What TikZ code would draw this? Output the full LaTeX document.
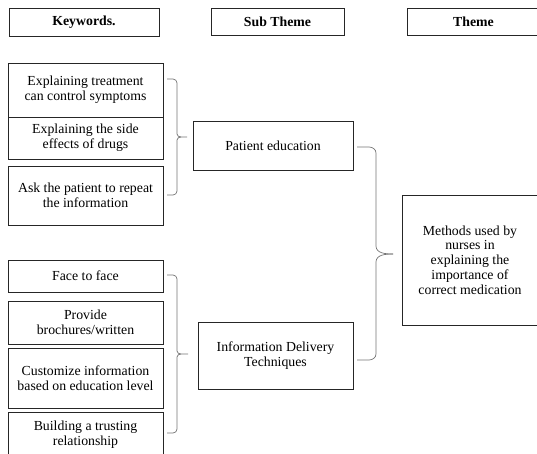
\documentclass[tikz,border=0pt]{standalone}
\usepackage{fontspec}
\setmainfont{Liberation Serif}
\usepackage{tikz}
\tikzset{box/.style = {draw=black!85, line width=0.8pt, align=center, inner sep=0pt,
                       font=\fontsize{13.8}{14.8}\selectfont},
         hdr/.style = {box, font=\fontsize{13.8}{14.8}\selectfont\bfseries},
         grp/.style = {draw=black!55, line width=0.7pt}}

\begin{document}
\begin{tikzpicture}[x=1pt, y=-1pt]
      \clip (0, 0) rectangle (537, 453);

      \node [hdr, minimum width=150, minimum height=28] (kw) at (84, 22) {Keywords.};
      \node [hdr, minimum width=133, minimum height=27] (sub) at (277.5, 21.5) {Sub Theme};
      \node [hdr, minimum width=133, minimum height=27] (thm) at (473.5, 21.5) {Theme};

      \node [box, minimum width=155, minimum height=54] (k1) at (85.5, 90) {Explaining treatment\\can control symptoms};
      \node [box, minimum width=155, minimum height=42] (k2) at (85.5, 138) {Explaining the side\\effects of drugs};
      \node [box, minimum width=155, minimum height=59] (k3) at (85.5, 195.5) {Ask the patient to repeat\\the information};

      \node [box, minimum width=155, minimum height=32] (k4) at (85.5, 276) {Face to face};
      \node [box, minimum width=155, minimum height=43] (k5) at (85.5, 322.5) {Provide\\brochures/written};
      \node [box, minimum width=155, minimum height=60] (k6) at (85.5, 378) {Customize information\\based on education level};
      \node [box, minimum width=155, minimum height=46] (k7) at (85.5, 435) {Building a trusting\\relationship};

      \node [box, minimum width=160, minimum height=49] (edu) at (273, 145.5) {Patient education};
      \node [box, minimum width=155, minimum height=67] (info) at (275.5, 355.5) {Information Delivery\\Techniques};

      \node [box, minimum width=136, minimum height=130] (meth) at (470, 260)
            {Methods used by\\nurses in\\explaining the\\importance of\\correct medication};

      % braces
      \coordinate (b1) at (167, 79);
      \coordinate (b2) at (167, 195);
      \coordinate (t1) at (187, 137);
      \coordinate (b3) at (167, 275);
      \coordinate (b4) at (167, 433);
      \coordinate (t2) at (188, 354);
      \coordinate (b5) at (357, 147);
      \coordinate (b6) at (357, 360);
      \coordinate (t3) at (393, 254);

      \draw [grp] (b1) -- ++(6, 0) to[out=0, in=90] ++(4, 4) -- (177, 134)
                  to[out=-90, in=180] (181, 137) -- (t1);
      \draw [grp] (181, 137) to[out=180, in=90] (177, 140) -- (177, 191)
                  to[out=-90, in=0] ++(-4, 4) -- (b2);

      \draw [grp] (b3) -- ++(6, 0) to[out=0, in=90] ++(4, 4) -- (177, 351)
                  to[out=-90, in=180] (181, 354) -- (t2);
      \draw [grp] (181, 354) to[out=180, in=90] (177, 357) -- (177, 429)
                  to[out=-90, in=0] ++(-4, 4) -- (b4);

      \draw [grp] (b5) -- ++(12, 0) to[out=0, in=90] ++(7, 6) -- (376, 246)
                  to[out=-90, in=180] (t3);
      \draw [grp] (t3) to[out=180, in=90] (376, 262) -- (376, 354)
                  to[out=-90, in=0] ++(-7, 6) -- (b6);
\end{tikzpicture}
\end{document}
